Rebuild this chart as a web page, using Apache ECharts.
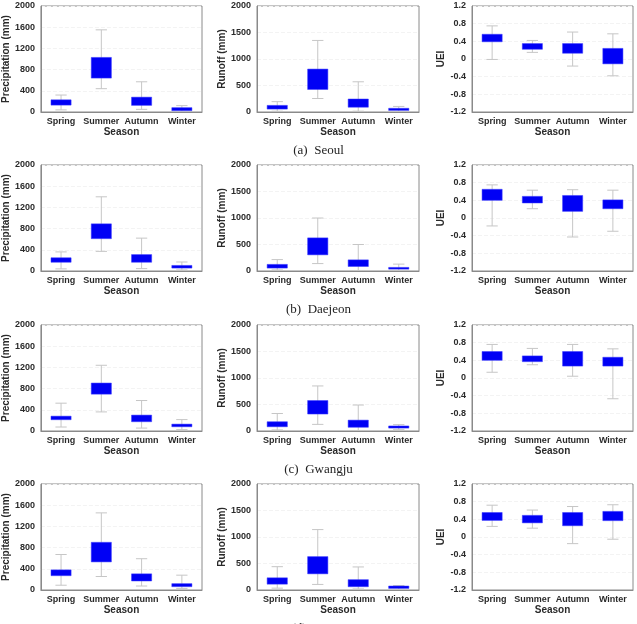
<!DOCTYPE html>
<html>
<head>
<meta charset="utf-8">
<script src="https://cdn.jsdelivr.net/npm/echarts@6/dist/echarts.min.js"></script>
<style>
  html, body { margin: 0; padding: 0; background: #fff; }
  #chart { width: 637px; height: 624px; }
</style>
</head>
<body>
<div id="chart"></div>
<script>
// box stats per season: [min, q1, median, q3, max]
const seasons = ['Spring', 'Summer', 'Autumn', 'Winter'];
const cities = ['(a)  Seoul', '(b)  Daejeon', '(c)  Gwangju', '(d)  Busan'];

const seoulPrecip = [[40, 130, 180, 230, 320], [440, 640, 830, 1030, 1550], [50, 125, 200, 280, 570], [10, 25, 55, 82, 120]];
const seoulRunoff = [[15, 55, 90, 125, 195], [255, 425, 620, 810, 1350], [15, 90, 165, 245, 570], [10, 30, 50, 70, 105]];
const seoulUei = [[-0.01, 0.39, 0.47, 0.56, 0.75], [0.15, 0.22, 0.28, 0.35, 0.42], [-0.16, 0.13, 0.24, 0.35, 0.61], [-0.38, -0.11, 0.07, 0.24, 0.57]];

const daejeonPrecip = [[40, 165, 205, 250, 360], [370, 610, 750, 890, 1400], [45, 165, 240, 310, 620], [20, 55, 80, 105, 170]];
const daejeonRunoff = [[20, 55, 90, 125, 215], [140, 305, 460, 625, 1000], [10, 85, 150, 210, 500], [10, 35, 50, 68, 130]];
const daejeonUei = [[-0.18, 0.40, 0.52, 0.65, 0.75], [0.21, 0.34, 0.42, 0.49, 0.63], [-0.43, 0.15, 0.33, 0.51, 0.64], [-0.30, 0.21, 0.31, 0.41, 0.63]];

const gwangjuPrecip = [[75, 213, 245, 280, 525], [360, 695, 800, 905, 1240], [55, 175, 240, 300, 575], [25, 80, 105, 130, 215]];
const gwangjuRunoff = [[20, 80, 130, 175, 330], [125, 320, 450, 575, 850], [10, 70, 140, 205, 490], [25, 55, 75, 95, 120]];
const gwangjuUei = [[0.13, 0.40, 0.50, 0.60, 0.76], [0.30, 0.37, 0.44, 0.50, 0.67], [0.04, 0.27, 0.43, 0.60, 0.76], [-0.47, 0.27, 0.37, 0.47, 0.66]];

const busanPrecip = [[90, 270, 330, 380, 670], [255, 530, 720, 900, 1455], [75, 170, 240, 305, 590], [30, 63, 90, 120, 280]];
const busanRunoff = [[35, 110, 170, 230, 440], [105, 305, 470, 630, 1140], [20, 62, 130, 195, 435], [12, 30, 55, 75, 85]];
const busanUei = [[0.24, 0.375, 0.46, 0.555, 0.72], [0.20, 0.32, 0.40, 0.49, 0.61], [-0.15, 0.255, 0.40, 0.555, 0.69], [-0.05, 0.37, 0.47, 0.58, 0.73]];

const rows = [
  [seoulPrecip, seoulRunoff, seoulUei],
  [daejeonPrecip, daejeonRunoff, daejeonUei],
  [gwangjuPrecip, gwangjuRunoff, gwangjuUei],
  [busanPrecip, busanRunoff, busanUei]
];

const rowTops = [6, 165, 325, 484];
const plotH = 106;
const cols = [
  { left: 40, width: 162, name: 'Precipitation (mm)', min: 0, max: 2000, interval: 400, gap: 26 },
  { left: 257, width: 162, name: 'Runoff (mm)', min: 0, max: 2000, interval: 500, gap: 24 },
  { left: 472, width: 161, name: 'UEI', min: -1.2, max: 1.2, interval: 0.4, gap: 18 }
];

const labelFont = { fontFamily: 'Liberation Sans', fontWeight: 'bold', fontSize: 9, color: '#2a2a2a' };

function renderBox(params, api) {
  const x = api.value(0);
  const lo = api.coord([x, api.value(1)]);
  const q1 = api.coord([x, api.value(2)]);
  const q3 = api.coord([x, api.value(4)]);
  const hi = api.coord([x, api.value(5)]);
  const band = api.size([1, 0])[0];
  const bw = band * 0.5;
  const cw = band * 0.28;
  const grey = { stroke: '#c6c6c6', lineWidth: 1 };
  return {
    type: 'group',
    children: [
      { type: 'line', shape: { x1: lo[0], y1: lo[1], x2: hi[0], y2: hi[1] }, style: grey },
      { type: 'line', shape: { x1: hi[0] - cw / 2, y1: hi[1], x2: hi[0] + cw / 2, y2: hi[1] }, style: grey },
      { type: 'line', shape: { x1: lo[0] - cw / 2, y1: lo[1], x2: lo[0] + cw / 2, y2: lo[1] }, style: grey },
      { type: 'rect', shape: { x: q3[0] - bw / 2, y: q3[1], width: bw, height: q1[1] - q3[1] },
        style: { fill: '#0000f5', stroke: '#3a3aff', lineWidth: 0.5 } }
    ]
  };
}

const grids = [], xAxes = [], yAxes = [], series = [], graphics = [];
rows.forEach((row, r) => {
  row.forEach((stats, c) => {
    const col = cols[c];
    const idx = grids.length;
    grids.push({
      left: col.left, top: rowTops[r], width: col.width, height: plotH,
      show: true, borderColor: '#8a8a8a', borderWidth: 1, backgroundColor: '#fff'
    });
    xAxes.push({
      type: 'category', gridIndex: idx, data: seasons, position: 'bottom',
      name: 'Season', nameLocation: 'middle', nameGap: 15,
      nameTextStyle: Object.assign({}, labelFont, { fontSize: 10 }),
      axisLine: { onZero: false, lineStyle: { color: '#8a8a8a' } },
      axisTick: { show: false },
      axisLabel: Object.assign({ margin: 5, interval: 0 }, labelFont),
      splitLine: { show: false }
    });
    yAxes.push({
      type: 'value', gridIndex: idx, min: col.min, max: col.max, interval: col.interval,
      name: col.name, nameLocation: 'middle', nameGap: col.gap, nameRotate: 90,
      nameTextStyle: Object.assign({}, labelFont, { fontSize: 10 }),
      axisLine: { show: true, lineStyle: { color: '#8a8a8a' } },
      axisTick: { show: false },
      axisLabel: Object.assign({
        margin: 6,
        formatter: v => Math.abs(v) < 1e-9 ? '0' : (col.interval < 1 ? v.toFixed(1) : String(v))
      }, labelFont),
      splitLine: { show: true, lineStyle: { color: '#f3f3f3', type: 'dashed' } }
    });
    series.push({
      type: 'custom', xAxisIndex: idx, yAxisIndex: idx,
      renderItem: renderBox,
      encode: { x: 0, y: [1, 2, 3, 4, 5] },
      data: stats.map((s, i) => [i].concat(s))
    });
  });
  graphics.push({
    type: 'text', left: 'center', top: rowTops[r] + 138,
    style: { text: cities[r], fontFamily: 'Liberation Serif', fontSize: 13, fill: '#222' }
  });
});

const chart = echarts.init(document.getElementById('chart'));
chart.setOption({
  animation: false,
  backgroundColor: '#fff',
  grid: grids,
  xAxis: xAxes,
  yAxis: yAxes,
  series: series,
  graphic: graphics
});
</script>
</body>
</html>
